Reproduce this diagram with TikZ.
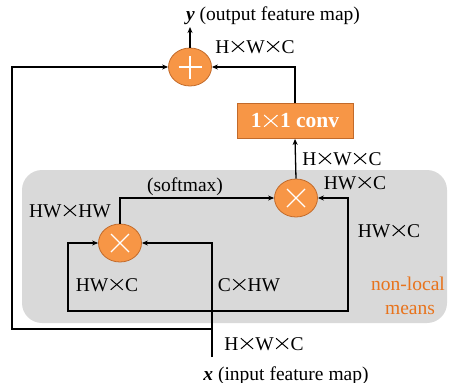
\documentclass[tikz,border=0pt]{standalone}
\usepackage{fontspec}
\setmainfont{Liberation Serif}
\usetikzlibrary{arrows.meta,shapes.geometric}
\definecolor{opfill}{HTML}{F79646}
\definecolor{opline}{HTML}{C26A2A}
\definecolor{nlgray}{HTML}{D9D9D9}
\definecolor{nltext}{HTML}{E8731C}
% wide, thin multiplication sign used in the shape labels
\newcommand{\tms}{\tikz[baseline=0pt,x=1em,y=1em]{%
  \useasboundingbox (0,0) rectangle (0.86,0.6);
  \draw[line width=0.05em] (0.12,0.06) -- (0.74,0.6) (0.12,0.6) -- (0.74,0.06);}}
\tikzset{
  op/.style={ellipse, draw=opline, fill=opfill, line width=0.8pt,
             minimum width=43pt, minimum height=38pt, inner sep=0pt},
  convbox/.style={rectangle, draw=opline, fill=opfill, line width=0.8pt,
             minimum width=116pt, minimum height=35pt, inner sep=0pt,
             text=white, font=\fontsize{21.5}{24}\selectfont\bfseries},
  sym/.style={white, line width=1.4pt},
  flow/.style={line width=1.3pt, -{Stealth[length=6pt,width=5pt]}},
  lbl/.style={anchor=base, inner sep=0pt, font=\fontsize{19.5}{24}\selectfont},
}
\begin{document}
\begin{tikzpicture}[x=1pt, y=-1pt]
\useasboundingbox (0,0) rectangle (450,383);

% non-local means region
\fill[nlgray, rounded corners=20pt] (22,170) rectangle (447,323);

% operators
\node[op] (plus) at (190,67) {};
\node[op] (tt) at (296,198) {};
\node[op] (tb) at (120,243) {};
\node[convbox] (conv) at (295,121) {1\tms1 conv};

\draw[sym] ([xshift=-11.5pt]plus.center) -- ([xshift=11.5pt]plus.center);
\draw[sym] ([yshift=-11.5pt]plus.center) -- ([yshift=11.5pt]plus.center);
\foreach \n in {tt,tb}{
  \draw[sym] ([xshift=-9pt,yshift=-9pt]\n.center) -- ([xshift=9pt,yshift=9pt]\n.center);
  \draw[sym] ([xshift=-9pt,yshift=9pt]\n.center) -- ([xshift=9pt,yshift=-9pt]\n.center);
}

% free ends and branch points
\coordinate (yout) at (190,27);
\coordinate (xin) at (212,357);
\coordinate (jskip) at (212,329);
\coordinate (jbr) at (212,311);
\coordinate (skipL) at (12,329);
\coordinate (brL) at (68,311);
\coordinate (brR) at (348,311);

% connectors
\draw[flow] (plus.north) -- (yout);
\draw[flow] (xin) |- (tb.east);
\draw[flow] (jskip) -- (skipL) |- (plus.west);
\draw[flow] (jbr) -- (brL) |- (tb.west);
\draw[flow] (jbr) -- (brR) |- (tt.east);
\draw[flow] (tb.north) |- (tt.west);
\draw[flow] (tt.north) -- (conv.south);
\draw[flow] (conv.north) |- (plus.east);

% labels
\node[lbl] (ylbl) at (273,20) {\textbf{\textit{y}} (output feature map)};
\node[lbl] (s1) at (255,53) {H\tms W\tms C};
\node[lbl] (s2) at (342,165) {H\tms W\tms C};
\node[lbl] (s3) at (355,189) {HW\tms C};
\node[lbl] (sm) at (185,191) {(softmax)};
\node[lbl] (s4) at (70,217) {HW\tms HW};
\node[lbl] (s5) at (389,237) {HW\tms C};
\node[lbl] (s6) at (107,291) {HW\tms C};
\node[lbl] (s7) at (249,291) {C\tms HW};
\node[lbl, text=nltext] (nl1) at (408,290) {non-local};
\node[lbl, text=nltext] (nl2) at (410,314) {means};
\node[lbl] (s8) at (264,350) {H\tms W\tms C};
\node[lbl] (xlbl) at (286,380) {\textbf{\textit{x}} (input feature map)};
\end{tikzpicture}
\end{document}
